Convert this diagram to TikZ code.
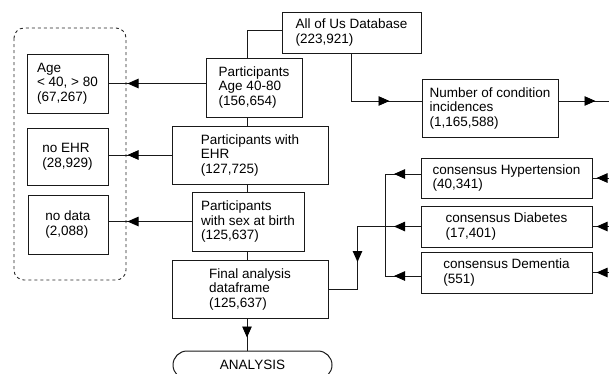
\documentclass[tikz,border=0pt]{standalone}
\usepackage{fontspec}
\setmainfont{Liberation Sans}
\usetikzlibrary{arrows.meta,decorations.markings,shapes.misc}

\tikzset{
  box/.style={draw=black!90, line width=1pt, align=left, inner sep=0pt},
  link/.style={draw=black!90, line width=0.9pt},
  tipat/.style={postaction={decorate},
    decoration={markings, mark=at position #1 with {\arrow[black]{Triangle[length=11pt,width=9.5pt]}}}},
  group/.style={draw=black!85, line width=0.9pt, dash pattern=on 3pt off 3pt, rounded corners=10pt}
}

\begin{document}
\begin{tikzpicture}[x=1pt, y=-1pt, font=\fontsize{13.5}{14.5}\selectfont]
\useasboundingbox (0,0) rectangle (609,373);

% main chain
\node[box, minimum width=139pt, minimum height=41pt] (db) at (351.5,32.5) {All of Us Database\\(223,921)};
\node[box, minimum width=96pt, minimum height=59pt] (p1) at (254,87.5) {Participants\\Age 40-80\\(156,654)};
\node[box, minimum width=156pt, minimum height=58pt] (p2) at (250,155) {Participants with\\EHR\\(127,725)};
\node[box, minimum width=112pt, minimum height=59pt] (p3) at (248,221.5) {Participants\\with sex at birth\\(125,637)};
\node[box, minimum width=156pt, minimum height=58pt] (fin) at (250,289) {Final analysis\\dataframe\\(125,637)};
\node[box, rounded rectangle, minimum width=159pt, minimum height=28pt] (ana) at (252.5,365) {ANALYSIS};

% excluded
\draw[group] (14,28) rectangle (126,280);
\node[box, minimum width=81pt, minimum height=59pt] (ex1) at (67.5,83.5) {Age\\< 40, > 80\\(67,267)};
\node[box, minimum width=81pt, minimum height=57pt] (ex2) at (67.5,156.5) {no EHR\\(28,929)};
\node[box, minimum width=80pt, minimum height=59pt] (ex3) at (68,224.5) {no data\\(2,088)};

% conditions
\node[box, minimum width=136pt, minimum height=58pt] (inc) at (490,108) {Number of condition\\incidences\\(1,165,588)};
\node[box, minimum width=171pt, minimum height=40pt] (hyp) at (506.5,178) {consensus Hypertension\\(40,341)};
\node[box, minimum width=171pt, minimum height=41pt] (dia) at (506.5,226.5) {consensus Diabetes\\(17,401)};
\node[box, minimum width=171pt, minimum height=41pt] (dem) at (506.5,272.5) {consensus Dementia\\(551)};

\coordinate (spine) at (247,30);
\coordinate (bus) at (385,226.5);
\coordinate (rin) at (615,0);

\draw[link] ([yshift=2.5pt]db.west) -| (p1.north -| spine);
\draw[link] (p1.south -| spine) -- (p2.north -| spine);
\draw[link] (p2.south -| spine) -- (p3.north -| spine);
\draw[link] (p3.south -| spine) -- (fin.north -| spine);
\draw[link, tipat=19pt] (fin.south -| spine) -- (ana.north -| spine);

\draw[link, tipat=-19pt] (p1.west |- ex1) -- (ex1.east);
\draw[link, tipat=-19pt] (p2.west) -- (ex2.east |- p2.west);
\draw[link, tipat=-19pt] (p3.west) -- (ex3.east |- p3.west);

\draw[link, tipat=-32pt] (db.south) |- ([yshift=7pt]inc.west);
\draw[link, tipat=37pt] ([yshift=7pt]inc.east) -- ([yshift=7pt]inc.east -| rin);

\foreach \n in {hyp,dia,dem}
{
  \draw[link, tipat=-4pt] (\n.east -| rin) -- (\n.east);
}
\draw[link, tipat=-9pt] ([yshift=4pt]hyp.west) -- ([yshift=4pt]hyp.west -| bus);
\draw[link, tipat=-9pt] (dia.west) -- (bus);
\draw[link, tipat=-9pt] ([yshift=-3.5pt]dem.west) -- ([yshift=-3.5pt]dem.west -| bus);
\draw[link] ([yshift=4pt]hyp.west -| bus) -- ([yshift=-3.5pt]dem.west -| bus);
\draw[link, tipat=63pt] (bus) -| ([xshift=29pt]fin.east) -- (fin.east);

\end{tikzpicture}
\end{document}
